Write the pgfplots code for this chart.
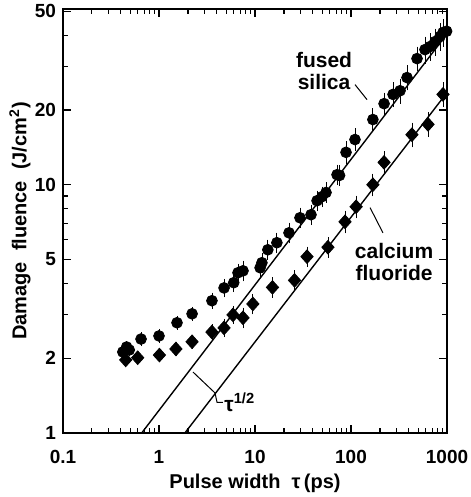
\documentclass[border=0pt]{standalone}
\usepackage{fontspec}
\setmainfont{Liberation Sans}
\usepackage{pgfplots}
\usepackage{pgfplotstable}
\pgfplotsset{compat=1.18}
\pgfplotstableread{
t f e
0.42 2.12 0.02
0.46 2.22 0.02
0.49 2.16 0.02
0.65 2.39 0.03
1.0 2.46 0.03
1.54 2.78 0.03
2.21 3.02 0.03
3.56 3.41 0.04
4.76 3.84 0.05
6.0 4.03 0.05
6.65 4.42 0.05
7.5 4.50 0.06
11.3 4.63 0.06
11.8 4.85 0.06
13.6 5.47 0.06
16.9 5.84 0.06
22.6 6.4 0.06
29.4 7.36 0.06
38.3 7.57 0.06
44.3 8.62 0.06
49.9 8.95 0.06
54.9 9.3 0.06
71.5 10.97 0.06
76 10.9 0.06
88.7 13.5 0.07
110 15.2 0.07
169 18.3 0.07
221 21.2 0.07
274 23.1 0.08
324 23.9 0.08
383 27.0 0.08
487 32.2 0.08
589 35.0 0.09
665 36.0 0.09
750 37.7 0.09
845 39.5 0.09
908 41.0 0.09
990 41.5 0.09
}\silica
\pgfplotstableread{
t f e
0.45 1.97 0.02
0.60 2.01 0.02
1.01 2.06 0.02
1.50 2.18 0.03
2.21 2.33 0.03
3.56 2.55 0.04
4.76 2.65 0.05
5.9 2.99 0.05
7.5 2.91 0.06
9.5 3.31 0.06
15.2 3.86 0.06
25.8 4.12 0.06
34.8 5.13 0.06
57.5 5.6 0.06
86.6 7.09 0.07
113 8.15 0.07
169 10.0 0.07
221 12.3 0.07
431 15.9 0.08
634 17.5 0.08
908 23.1 0.08
}\caf
\begin{document}
\begin{tikzpicture}[font=\bfseries\fontsize{9.5}{11}\selectfont]
\begin{axis}[name=ax, xmode=log, ymode=log, scale only axis,
  width=192pt, height=212pt,
  xmin=0.1, xmax=1000, ymin=1, ymax=51,
  xtick={0.1,1,10,100,1000}, xticklabels={0.1,1,10,100,1000},
  ytick={1,2,5,10,20,50}, yticklabels={1,2,5,10,20,50},
  minor xtick={0.2,0.3,0.4,0.5,0.6,0.7,0.8,0.9,2,3,4,5,6,7,8,9,20,30,40,50,60,70,80,90,200,300,400,500,600,700,800,900},
  minor ytick={3,4,6,7,8,9,30,40},
  tick align=inside, major tick length=4pt, minor tick length=2.5pt,
  axis line style={line width=0.9pt}, tick style={line width=0.6pt, black},
  xticklabel style={yshift=-5pt},
  xlabel={Pulse width\ \ τ\,(ps)},
  ylabel={Damage\ \ fluence\ \ (J/cm\textsuperscript{2})},
  xlabel style={at={(axis description cs:0.5,-0.118)}, anchor=center, font=\bfseries\fontsize{10}{12}\selectfont},
  ylabel style={at={(axis description cs:-0.112,0.5)}, anchor=center, font=\bfseries\fontsize{10}{12}\selectfont},
  clip=false,
]
\addplot[black, line width=0.7pt] coordinates {(0.66,1) (1000,40.5)};
\addplot[black, line width=0.7pt] coordinates {(1.86,1) (1000,23.5)};
\addplot[black, only marks, mark=*, mark size=2.7pt,
  error bars/.cd, y dir=both, y explicit relative,
  error bar style={line width=0.4pt, black},
  error mark options={mark size=1.9pt, line width=0.4pt, black}]
  table[x=t, y=f, y error=e] {\silica};
\addplot[black, only marks, mark=diamond*, mark size=3.4pt, mark options={xscale=1.2},
  error bars/.cd, y dir=both, y explicit relative,
  error bar style={line width=0.4pt, black},
  error mark options={mark size=1.9pt, line width=0.4pt, black, xscale=1}]
  table[x=t, y=f, y error=e] {\caf};
\node[align=center, inner sep=0pt, font=\bfseries\fontsize{10.5}{12}\selectfont] at (axis cs:52.4,28.6) {fused\\[-1pt]silica};
\draw[line width=0.5pt] (axis cs:110,25.3) -- (axis cs:147,22.0);
\node[align=center, inner sep=0pt, font=\bfseries\fontsize{10.5}{12}\selectfont] at (axis cs:281,4.89) {calcium\\[-1pt]fluoride};
\draw[line width=0.5pt] (axis cs:158,8.08) -- (axis cs:215,6.4);
\draw[line width=0.5pt] (axis cs:2.26,1.76) -- (axis cs:3.83,1.45) -- (axis cs:4.02,1.33) -- (axis cs:4.64,1.33);
\node[anchor=west, inner sep=0.5pt, font=\bfseries\fontsize{10.5}{12}\selectfont] at (axis cs:4.64,1.33) {τ\textsuperscript{1/2}};
\end{axis}
\pgfresetboundingbox
\path[use as bounding box] ([shift={(-31.5pt,-32pt)}]ax.south west) rectangle ([shift={(11.5pt,4.5pt)}]ax.north east);
\end{tikzpicture}
\end{document}
